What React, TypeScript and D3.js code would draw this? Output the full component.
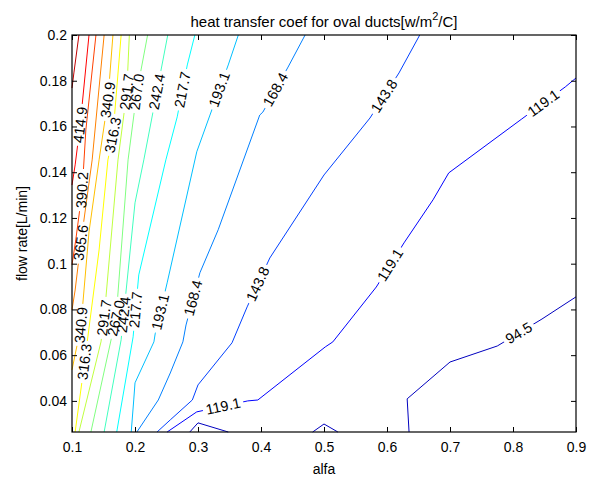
import React, { useEffect, useRef } from 'react';
import * as d3 from 'd3';

const WIDTH = 592;
const HEIGHT = 479;
const FONT = '"Liberation Sans", Arial, Helvetica, sans-serif';

// axes
const X_TICKS = [0.1, 0.2, 0.3, 0.4, 0.5, 0.6, 0.7, 0.8, 0.9];
const Y_TICKS = [0.04, 0.06, 0.08, 0.1, 0.12, 0.14, 0.16, 0.18, 0.2];
const ALFA_RANGE = [0.1, 0.9];
const FLOW_RANGE = [0.0264, 0.2];

// contour levels (matlab picks them evenly between min and max of the field)
const LEVELS = [94.5, 119.1, 143.8, 168.4, 193.1, 217.7, 242.4, 267.0, 291.7, 316.3, 340.9, 365.6, 390.2, 414.9, 439.5];

// contour lines, points are [alfa, flow rate]
const c945 = [[0.635, 0.0264], [0.632, 0.0409], [0.7, 0.057], [0.775, 0.064], [0.846, 0.0758], [0.9, 0.0855]];
const c945a = [[0.287, 0.0264], [0.3, 0.0304], [0.348, 0.0264]];
const c945b = [[0.482, 0.0264], [0.5, 0.0299], [0.522, 0.0264]];
const c1191 = [[0.251, 0.0264], [0.298, 0.0352], [0.379, 0.04], [0.395, 0.0404], [0.502, 0.0636], [0.514, 0.0658], [0.583, 0.0898], [0.627, 0.1091], [0.673, 0.1279], [0.698, 0.1397], [0.814, 0.1633], [0.883, 0.1773], [0.9, 0.1812]];
const c1438 = [[0.235, 0.0264], [0.256, 0.0317], [0.291, 0.0404], [0.3, 0.047], [0.354, 0.0654], [0.378, 0.0811], [0.414, 0.1025], [0.5, 0.1388], [0.573, 0.1637], [0.619, 0.1834], [0.652, 0.2]];
const c1684 = [[0.203, 0.0264], [0.237, 0.0404], [0.256, 0.0522], [0.276, 0.0658], [0.281, 0.0732], [0.303, 0.096], [0.332, 0.1148], [0.398, 0.165], [0.403, 0.1663], [0.443, 0.186], [0.47, 0.2]];
const c1931 = [[0.194, 0.0264], [0.198, 0.0404], [0.2, 0.0479], [0.23, 0.0658], [0.232, 0.0693], [0.251, 0.0916], [0.298, 0.1489], [0.319, 0.165], [0.348, 0.1869], [0.364, 0.2]];
const c2177 = [[0.171, 0.0264], [0.197, 0.068], [0.206, 0.0951], [0.249, 0.1454], [0.267, 0.1642], [0.283, 0.1869], [0.295, 0.2]];
const c2424 = [[0.151, 0.0264], [0.178, 0.0667], [0.2, 0.1266], [0.214, 0.1454], [0.252, 0.2]];
const c2670 = [[0.13, 0.0264], [0.162, 0.0667], [0.17, 0.0763], [0.189, 0.1454], [0.203, 0.1751], [0.22, 0.2]];
const c2917 = [[0.111, 0.0264], [0.146, 0.0658], [0.151, 0.0763], [0.173, 0.1454], [0.187, 0.1751], [0.191, 0.2]];
const c3163 = [[0.105, 0.0264], [0.119, 0.0549], [0.143, 0.106], [0.157, 0.1454], [0.165, 0.1563], [0.178, 0.2]];
const c3409 = [[0.1, 0.0536], [0.114, 0.0723], [0.127, 0.1139], [0.143, 0.1454], [0.157, 0.1716], [0.165, 0.2]];
const c3656 = [[0.1, 0.0798], [0.105, 0.0885], [0.114, 0.1091], [0.132, 0.1454], [0.151, 0.2]];
const c3902 = [[0.1, 0.0995], [0.106, 0.1104], [0.116, 0.1314], [0.122, 0.1585], [0.138, 0.2]];
const c4149 = [[0.1, 0.1344], [0.105, 0.1432], [0.113, 0.1607], [0.127, 0.2]];
const c4395 = [[0.1, 0.1768], [0.103, 0.1834], [0.111, 0.2]];

const CONTOUR_LINES = [
  [c945, c945a, c945b],
  [c1191],
  [c1438],
  [c1684],
  [c1931],
  [c2177],
  [c2424],
  [c2670],
  [c2917],
  [c3163],
  [c3409],
  [c3656],
  [c3902],
  [c4149],
  [c4395],
];

// inline labels: [level, alfa, flow rate]
const LABELS = [
  [94.5, 0.811, 0.0689],
  [119.1, 0.34, 0.0374],
  [119.1, 0.61, 0.0986],
  [119.1, 0.848, 0.1703],
  [143.8, 0.395, 0.0911],
  [143.8, 0.598, 0.1729],
  [168.4, 0.292, 0.085],
  [168.4, 0.424, 0.176],
  [193.1, 0.24, 0.0789],
  [193.1, 0.335, 0.176],
  [217.7, 0.203, 0.0798],
  [217.7, 0.276, 0.176],
  [242.4, 0.184, 0.0776],
  [242.4, 0.237, 0.1751],
  [267.0, 0.168, 0.0763],
  [267.0, 0.203, 0.1751],
  [291.7, 0.151, 0.0763],
  [291.7, 0.187, 0.1751],
  [316.3, 0.121, 0.057],
  [316.3, 0.164, 0.1563],
  [340.9, 0.114, 0.0732],
  [340.9, 0.157, 0.1716],
  [365.6, 0.116, 0.1091],
  [390.2, 0.116, 0.1322],
  [414.9, 0.113, 0.1607],
];

// matlab jet colormap
const jet = (t: number) => {
  const c = (v: number) => Math.max(0, Math.min(1, v)) * 255;
  return d3.rgb(c(1.5 - Math.abs(4 * t - 3)), c(1.5 - Math.abs(4 * t - 2)), c(1.5 - Math.abs(4 * t - 1))).formatHex();
};

const ContourChart = () => {
  const svgRef = useRef<SVGSVGElement>(null);

  useEffect(() => {
    const svg = d3.select(svgRef.current);
    svg.selectAll('*').remove();

    const margin = { top: 35, right: 16, bottom: 47, left: 72 };
    const width = WIDTH - margin.left - margin.right;
    const height = HEIGHT - margin.top - margin.bottom;

    const x = d3.scaleLinear().domain(ALFA_RANGE).range([margin.left, margin.left + width]);
    const y = d3.scaleLinear().domain(FLOW_RANGE).range([margin.top + height, margin.top]);
    const color = (i: number) => jet((i + 1) / (LEVELS.length + 1));

    svg.append('rect').attr('width', WIDTH).attr('height', HEIGHT).attr('fill', 'white');

    const defs = svg.append('defs');
    const plot = svg.append('g').attr('class', 'contours');
    const axes = svg.append('g').attr('font-family', FONT);
    const labelGroup = svg.append('g').attr('class', 'labels').attr('font-family', FONT).attr('font-size', 14.5);

    // find where a label sits on its line and the direction of the line there
    const snap = (lines: number[][][], px: number, py: number) => {
      let best = { d: Infinity, x: px, y: py, a: 0 };
      lines.forEach((pts) => {
        for (let i = 0; i < pts.length - 1; i++) {
          const x1 = x(pts[i][0]);
          const y1 = y(pts[i][1]);
          const dx = x(pts[i + 1][0]) - x1;
          const dy = y(pts[i + 1][1]) - y1;
          const len2 = dx * dx + dy * dy;
          const t = len2 ? Math.max(0, Math.min(1, ((px - x1) * dx + (py - y1) * dy) / len2)) : 0;
          const qx = x1 + t * dx;
          const qy = y1 + t * dy;
          const d = Math.hypot(px - qx, py - qy);
          if (d < best.d) {
            let a = (Math.atan2(dy, dx) * 180) / Math.PI;
            if (a > 90) a -= 180;
            if (a < -90) a += 180;
            best = { d, x: qx, y: qy, a };
          }
        }
      });
      return best;
    };

    const placed = LABELS.map(([level, ax, fr]) => {
      const i = LEVELS.indexOf(level);
      const s = snap(CONTOUR_LINES[i], x(ax), y(fr));
      const text = labelGroup
        .append('text')
        .attr('transform', `translate(${s.x},${s.y}) rotate(${s.a})`)
        .attr('text-anchor', 'middle')
        .attr('dominant-baseline', 'central')
        .attr('fill', 'black')
        .text(level.toFixed(1));
      const len = (text.node() as SVGTextElement).getComputedTextLength();
      return { i, s, len };
    });

    // masks cut the gaps in each line where its labels sit
    LEVELS.forEach((level, i) => {
      const mask = defs.append('mask').attr('id', `gap-${i}`).attr('maskUnits', 'userSpaceOnUse')
        .attr('x', 0).attr('y', 0).attr('width', WIDTH).attr('height', HEIGHT);
      mask.append('rect').attr('width', WIDTH).attr('height', HEIGHT).attr('fill', 'white');
      placed.filter((p) => p.i === i).forEach((p) => {
        mask
          .append('rect')
          .attr('x', -p.len / 2 - 3)
          .attr('y', -8)
          .attr('width', p.len + 6)
          .attr('height', 16)
          .attr('fill', 'black')
          .attr('transform', `translate(${p.s.x},${p.s.y}) rotate(${p.s.a})`);
      });
    });

    const line = d3.line<number[]>().x((d) => x(d[0])).y((d) => y(d[1]));

    CONTOUR_LINES.forEach((lines, i) => {
      plot
        .append('g')
        .attr('mask', `url(#gap-${i})`)
        .selectAll('path')
        .data(lines)
        .enter()
        .append('path')
        .attr('d', line)
        .attr('fill', 'none')
        .attr('stroke', color(i))
        .attr('stroke-width', 1);
    });

    // axes, ticks point inwards on all four sides
    const styleAxis = (g) => {
      g.select('.domain').remove();
      g.selectAll('line').attr('stroke', 'black');
      g.selectAll('text').attr('font-family', FONT).attr('font-size', 14).attr('fill', 'black');
    };

    axes
      .append('g')
      .attr('transform', `translate(0,${margin.top + height})`)
      .call(d3.axisBottom(x).tickValues(X_TICKS).tickSize(-5).tickSizeOuter(0).tickPadding(10).tickFormat((d) => `${d}`))
      .call(styleAxis);

    axes
      .append('g')
      .attr('transform', `translate(${margin.left},0)`)
      .call(d3.axisLeft(y).tickValues(Y_TICKS).tickSize(-5).tickSizeOuter(0).tickPadding(5).tickFormat((d) => `${d}`))
      .call(styleAxis);

    axes
      .append('g')
      .attr('transform', `translate(0,${margin.top})`)
      .call(d3.axisTop(x).tickValues(X_TICKS).tickSize(-5).tickSizeOuter(0).tickFormat(() => ''))
      .call(styleAxis);

    axes
      .append('g')
      .attr('transform', `translate(${margin.left + width},0)`)
      .call(d3.axisRight(y).tickValues(Y_TICKS).tickSize(-5).tickSizeOuter(0).tickFormat(() => ''))
      .call(styleAxis);

    axes
      .append('rect')
      .attr('x', margin.left)
      .attr('y', margin.top)
      .attr('width', width)
      .attr('height', height)
      .attr('fill', 'none')
      .attr('stroke', 'black')
      .attr('stroke-width', 1.2);

    // title and axis labels
    const title = axes
      .append('text')
      .attr('x', margin.left + width / 2)
      .attr('y', 27)
      .attr('text-anchor', 'middle')
      .attr('font-size', 15);
    title.append('tspan').text('heat transfer coef for oval ducts[w/m');
    title.append('tspan').attr('dy', -7).attr('font-size', 11).text('2');
    title.append('tspan').attr('dy', 7).text('/C]');

    axes
      .append('text')
      .attr('x', margin.left + width / 2)
      .attr('y', 474)
      .attr('text-anchor', 'middle')
      .attr('font-size', 14)
      .text('alfa');

    axes
      .append('text')
      .attr('transform', `translate(27,${margin.top + height / 2}) rotate(-90)`)
      .attr('text-anchor', 'middle')
      .attr('font-size', 14)
      .text('flow rate[L/min]');
  }, []);

  return (
    <svg
      ref={svgRef}
      width={WIDTH}
      height={HEIGHT}
      style={{ position: 'absolute', left: 0, top: 0, display: 'block', background: 'white' }}
    ></svg>
  );
};

export default function App() {
  return <ContourChart />;
}
